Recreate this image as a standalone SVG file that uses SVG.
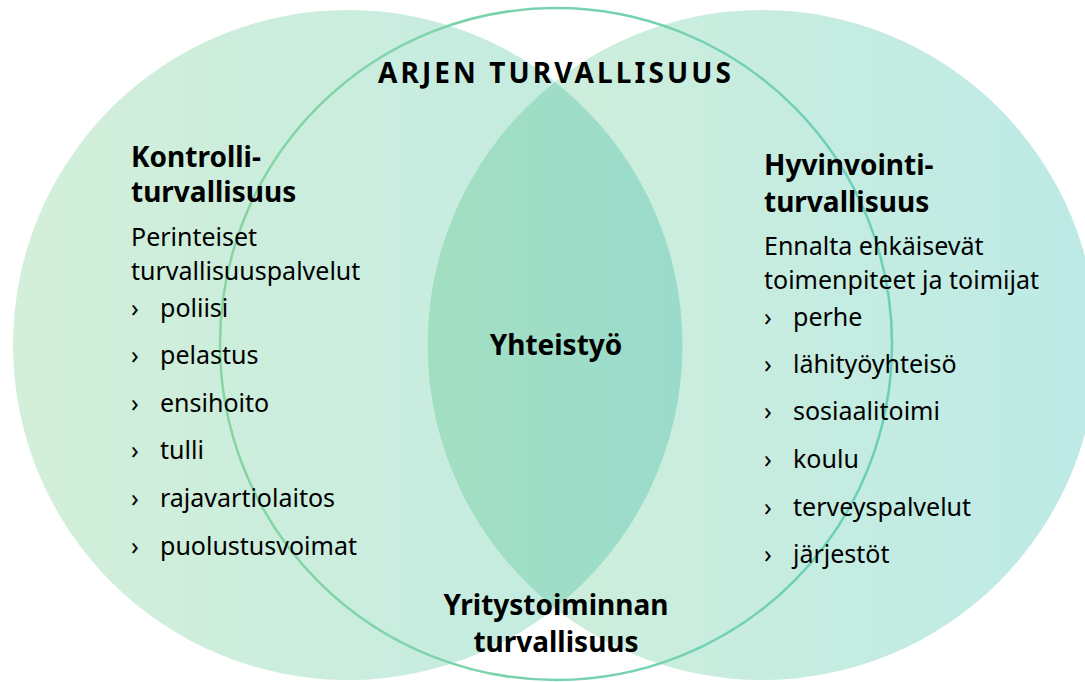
<svg xmlns="http://www.w3.org/2000/svg" width="1085" height="682" viewBox="0 0 1085 682">
  <defs>
    <linearGradient id="gLeft" gradientUnits="userSpaceOnUse" x1="13" y1="0" x2="683" y2="0">
      <stop offset="0" stop-color="#d3efd9"/>
      <stop offset="1" stop-color="#c1ebe3"/>
    </linearGradient>
    <linearGradient id="gRight" gradientUnits="userSpaceOnUse" x1="427" y1="0" x2="1097" y2="0">
      <stop offset="0" stop-color="#d1efd9"/>
      <stop offset="1" stop-color="#bdeae6"/>
    </linearGradient>
    <linearGradient id="gLens" gradientUnits="userSpaceOnUse" x1="427" y1="0" x2="683" y2="0">
      <stop offset="0" stop-color="#a2dfc2"/>
      <stop offset="1" stop-color="#9bdbcb"/>
    </linearGradient>
    <linearGradient id="gRing" gradientUnits="userSpaceOnUse" x1="220" y1="0" x2="892" y2="0">
      <stop offset="0" stop-color="#86d5a3"/>
      <stop offset="1" stop-color="#6bcfba"/>
    </linearGradient>
  </defs>
  <style>
    text { font-family: "Noto Sans", "Open Sans", sans-serif; fill: #000; }
    .h { font-weight: 700; font-size: 28px; }
    .t { font-size: 25px; }
    .c { text-anchor: middle; }
  </style>

  <g id="left-circle">
    <circle cx="348" cy="345" r="335" fill="url(#gLeft)"/>
  </g>
  <g id="right-circle">
    <circle cx="762" cy="345" r="335" fill="url(#gRight)"/>
  </g>
  <g id="overlap">
    <path d="M555,82 A335,335 0 0,0 555,608 A335,335 0 0,0 555,82 Z" fill="url(#gLens)"/>
  </g>
  <g id="ring">
    <circle cx="556" cy="344" r="336" fill="none" stroke="url(#gRing)" stroke-width="2.5"/>
  </g>

  <g id="arjen">
    <text class="h c" x="556" y="83" font-size="27" letter-spacing="3.1">ARJEN TURVALLISUUS</text>
  </g>

  <g id="kontrolli">
    <text class="h"><tspan x="131" y="167">Kontrolli-</tspan><tspan x="131" y="202">turvallisuus</tspan></text>
    <text class="t" x="131" y="246">Perinteiset</text>
    <text class="t" x="131" y="280">turvallisuuspalvelut</text>
    <text class="t" x="131" y="317">›</text><text class="t" x="160" y="317">poliisi</text>
    <text class="t" x="131" y="364">›</text><text class="t" x="160" y="364">pelastus</text>
    <text class="t" x="131" y="412">›</text><text class="t" x="160" y="412">ensihoito</text>
    <text class="t" x="131" y="459">›</text><text class="t" x="160" y="459">tulli</text>
    <text class="t" x="131" y="507">›</text><text class="t" x="160" y="507">rajavartiolaitos</text>
    <text class="t" x="131" y="555">›</text><text class="t" x="160" y="555">puolustusvoimat</text>
  </g>

  <g id="hyvinvointi">
    <text class="h"><tspan x="764" y="175">Hyvinvointi-</tspan><tspan x="764" y="212">turvallisuus</tspan></text>
    <text class="t" x="764" y="255">Ennalta ehkäisevät</text>
    <text class="t" x="764" y="289">toimenpiteet ja toimijat</text>
    <text class="t" x="764" y="326">›</text><text class="t" x="793" y="326">perhe</text>
    <text class="t" x="764" y="373">›</text><text class="t" x="793" y="373">lähityöyhteisö</text>
    <text class="t" x="764" y="420">›</text><text class="t" x="793" y="420">sosiaalitoimi</text>
    <text class="t" x="764" y="468">›</text><text class="t" x="793" y="468">koulu</text>
    <text class="t" x="764" y="516">›</text><text class="t" x="793" y="516">terveyspalvelut</text>
    <text class="t" x="764" y="563">›</text><text class="t" x="793" y="563">järjestöt</text>
  </g>

  <g id="yhteistyo">
    <text class="h c" x="556" y="355">Yhteistyö</text>
  </g>

  <g id="yritys">
    <text class="h c"><tspan x="556" y="615">Yritystoiminnan</tspan><tspan x="556" y="652">turvallisuus</tspan></text>
  </g>
</svg>
